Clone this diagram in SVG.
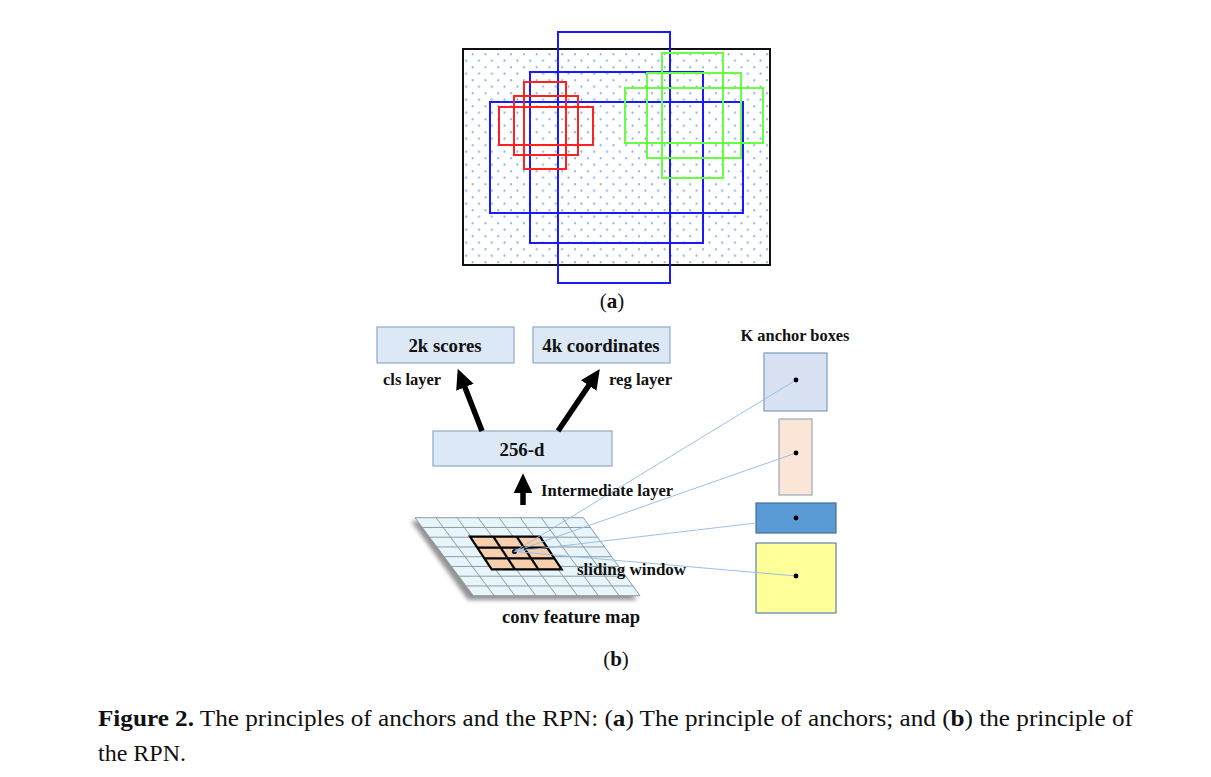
<svg xmlns="http://www.w3.org/2000/svg" width="1211" height="777" viewBox="0 0 1211 777">
<defs>
<style>
.lbl{font-family:"Liberation Serif","Times New Roman",serif;font-weight:bold;fill:#111}
.cap{font-family:"Liberation Serif","Times New Roman",serif;fill:#111}
.box{fill:#dce8f5;stroke:#8fa9c6;stroke-width:1.2}
.blue{fill:none;stroke:#1a1aff;stroke-width:2}
.red{fill:none;stroke:#ff2020;stroke-width:2}
.green{fill:none;stroke:#66ff44;stroke-width:2}
.ray{stroke:#8fbbe6;stroke-width:0.9;fill:none}
.grid{stroke:#8d9aa0;stroke-width:1;fill:none}
.win{stroke:#000;stroke-width:2.2;fill:none}
.arr{stroke:#000;stroke-width:5.5;fill:none}
</style>
<pattern id="dots" x="471.7" y="53.3" width="12.8" height="13" patternUnits="userSpaceOnUse">
<circle cx="0.9" cy="0.9" r="1.05" fill="#74a9dd"/>
<circle cx="7.3" cy="7.4" r="1.05" fill="#74a9dd"/>
</pattern>
<marker id="ah" markerWidth="4" markerHeight="4" refX="2.2" refY="2" orient="auto" markerUnits="strokeWidth" viewBox="0 0 4 4">
<path d="M0,0.3 L3.6,2 L0,3.7 Z" fill="#000"/>
</marker>
<filter id="sh" x="-20%" y="-20%" width="140%" height="140%"><feGaussianBlur stdDeviation="2"/></filter>
</defs>
<rect width="1211" height="777" fill="#fff"/>

<g id="panel-a">
<rect x="463" y="49" width="307" height="216" fill="#fff" stroke="none"/>
<rect x="463" y="49" width="307" height="216" fill="url(#dots)" stroke="#111" stroke-width="2"/>
<rect class="blue" x="490" y="102" width="253" height="111"/>
<rect class="blue" x="530" y="72" width="173" height="171"/>
<rect class="blue" x="558" y="32" width="112" height="251"/>
<rect class="red" x="524" y="82" width="42" height="87"/>
<rect class="red" x="514" y="96" width="64" height="59"/>
<rect class="red" x="499" y="107" width="94" height="38"/>
<rect class="green" x="662" y="53" width="61" height="125"/>
<rect class="green" x="647" y="73" width="94" height="85"/>
<rect class="green" x="625" y="88" width="138" height="55"/>
<text class="cap" x="612" y="308" font-size="21" text-anchor="middle">(<tspan font-weight="bold">a</tspan>)</text>
</g>

<g id="node-2k-scores">
<rect class="box" x="377" y="327" width="137" height="36"/>
<text class="lbl" x="445" y="352" font-size="18.8" text-anchor="middle">2k scores</text>
</g>
<g id="node-4k-coordinates">
<rect class="box" x="533" y="327" width="137" height="36"/>
<text class="lbl" x="601" y="352" font-size="18.8" text-anchor="middle">4k coordinates</text>
</g>
<g id="node-256d">
<rect class="box" x="433" y="431" width="179" height="35"/>
<text class="lbl" x="522" y="456" font-size="18.8" text-anchor="middle">256-d</text>
</g>

<g id="feature-map">
<polygon points="411,521 579,521 637,600 468,600" fill="#707070" opacity="0.75" filter="url(#sh)"/>
<polygon points="415,517.7 583.3,517.7 640,595.7 473.3,595.7" fill="#e8f6fb"/>
<g class="grid">
<polygon points="415,517.7 583.3,517.7 640,595.7 473.3,595.7"/>
<line x1="436" y1="517.7" x2="494.1" y2="595.7"/>
<line x1="457" y1="517.7" x2="514.9" y2="595.7"/>
<line x1="478.1" y1="517.7" x2="535.8" y2="595.7"/>
<line x1="499.1" y1="517.7" x2="556.6" y2="595.7"/>
<line x1="520.2" y1="517.7" x2="577.4" y2="595.7"/>
<line x1="541.2" y1="517.7" x2="598.3" y2="595.7"/>
<line x1="562.3" y1="517.7" x2="619.1" y2="595.7"/>
<line x1="422.3" y1="527.45" x2="590.4" y2="527.45"/>
<line x1="429.6" y1="537.2" x2="597.5" y2="537.2"/>
<line x1="436.8" y1="546.95" x2="604.6" y2="546.95"/>
<line x1="444.2" y1="556.7" x2="611.7" y2="556.7"/>
<line x1="451.4" y1="566.45" x2="618.8" y2="566.45"/>
<line x1="458.7" y1="576.2" x2="625.8" y2="576.2"/>
<line x1="466" y1="585.95" x2="632.9" y2="585.95"/>
</g>
<polygon points="470,536.7 540,536.7 561.7,569.3 491.7,569.3" fill="#f8cfad"/>
<g class="win">
<polygon points="470,536.7 540,536.7 561.7,569.3 491.7,569.3"/>
<line x1="493.3" y1="536.7" x2="515" y2="569.3"/>
<line x1="516.7" y1="536.7" x2="538.4" y2="569.3"/>
<line x1="477.2" y1="547.6" x2="547.2" y2="547.6"/>
<line x1="484.5" y1="558.4" x2="554.5" y2="558.4"/>
</g>
<circle cx="514.5" cy="551.5" r="2.6" fill="#0a1a3a"/>
<text class="lbl" x="571" y="623" font-size="18.6" text-anchor="middle">conv feature map</text>
</g>

<g id="anchor-boxes">
<text class="lbl" x="795" y="341" font-size="16.4" text-anchor="middle">K anchor boxes</text>
<g id="anchor-1">
<rect x="764" y="353" width="63" height="58" fill="#d9e2f3" stroke="#7f9abf" stroke-width="1.2"/>
</g>
<g id="anchor-2">
<rect x="779" y="419" width="33" height="76" fill="#fbe5d6" stroke="#98a8ba" stroke-width="1.2"/>
</g>
<g id="anchor-3">
<rect x="756" y="503" width="80" height="30" fill="#5b9bd5" stroke="#41719c" stroke-width="1.2"/>
</g>
<g id="anchor-4">
<rect x="756" y="543" width="80" height="70" fill="#ffff99" stroke="#5b82b0" stroke-width="1.2"/>
</g>
</g>

<g id="connectors">
<line class="arr" x1="482" y1="431" x2="460.5" y2="376" marker-end="url(#ah)"/>
<line class="arr" x1="558" y1="431" x2="595.5" y2="375.5" marker-end="url(#ah)"/>
<line class="arr" x1="523" y1="505" x2="523" y2="481" marker-end="url(#ah)"/>
<line class="ray" x1="514.5" y1="551.5" x2="796" y2="380"/>
<line class="ray" x1="514.5" y1="551.5" x2="796" y2="453"/>
<line class="ray" x1="514.5" y1="551.5" x2="756" y2="523"/>
<line class="ray" x1="514.5" y1="551.5" x2="796" y2="576"/>
<circle cx="796" cy="380" r="2.4" fill="#000"/>
<circle cx="796" cy="453" r="2.4" fill="#000"/>
<circle cx="796" cy="518" r="2.4" fill="#000"/>
<circle cx="796" cy="576" r="2.4" fill="#000"/>
</g>

<g id="labels-b">
<text class="lbl" x="383" y="385" font-size="16.5">cls layer</text>
<text class="lbl" x="609" y="385" font-size="16.7">reg layer</text>
<text class="lbl" x="541" y="496" font-size="16.6">Intermediate layer</text>
<text class="lbl" x="577" y="575" font-size="17">sliding window</text>
<text class="cap" x="616" y="666" font-size="21" text-anchor="middle">(<tspan font-weight="bold">b</tspan>)</text>
</g>

<g id="caption">
<text class="cap" x="98" y="726" font-size="24" textLength="1035" lengthAdjust="spacingAndGlyphs"><tspan font-weight="bold">Figure 2.</tspan> The principles of anchors and the RPN: (<tspan font-weight="bold">a</tspan>) The principle of anchors; and (<tspan font-weight="bold">b</tspan>) the principle of</text>
<text class="cap" x="98" y="761" font-size="24">the RPN.</text>
</g>
</svg>
